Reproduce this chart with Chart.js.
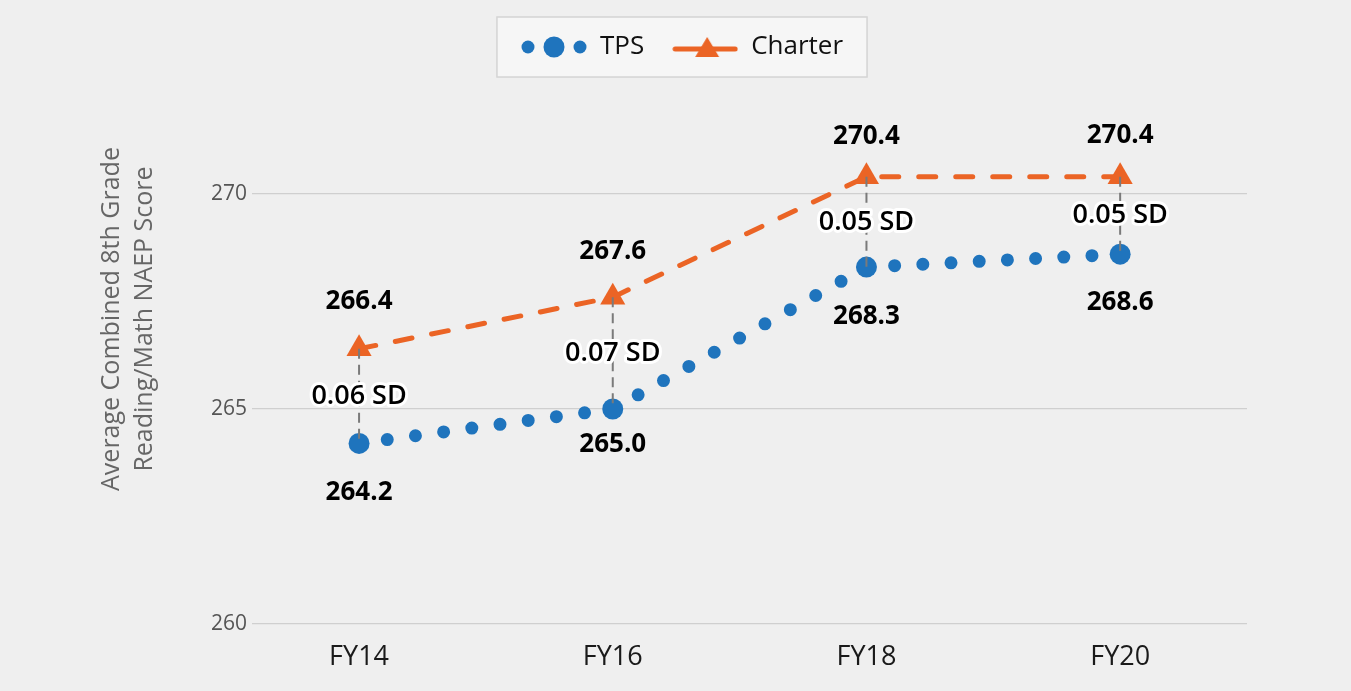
<!DOCTYPE html>
<html>
<head>
<meta charset="utf-8">
<script src="https://cdn.jsdelivr.net/npm/chart.js@4/dist/chart.umd.min.js"></script>
<style>
  html, body { margin: 0; padding: 0; background: #efefef; }
  #wrap { width: 1351px; height: 691px; }
</style>
</head>
<body>
<div id="wrap"><canvas id="naep"></canvas></div>
<script>
const years = ['FY14', 'FY16', 'FY18', 'FY20']
const tpsScores = [264.2, 265.0, 268.3, 268.6]
const charterScores = [266.4, 267.6, 270.4, 270.4]
const gapLabels = ['0.06 SD', '0.07 SD', '0.05 SD', '0.05 SD']
const yTicks = [260, 265, 270]
const axisTitle = ['Average Combined 8th Grade', 'Reading/Math NAEP Score']

const BLUE = '#1f74bd'
const ORANGE = '#eb6425'
const FONT = "'Open Sans', 'Noto Sans', sans-serif"

// how far the value labels sit from their marker (px)
const charterLabelGap = [47, 46, 40, 41]
const tpsLabelGap = [49, 36, 49, 48]

// little canvases for the legend icons
function tpsIcon() {
  const c = document.createElement('canvas')
  c.width = 66; c.height = 24
  const g = c.getContext('2d')
  g.fillStyle = BLUE
  ;[[7, 6.5], [33, 10.5], [59, 6.5]].forEach(([x, r]) => {
    g.beginPath(); g.arc(x, 12, r, 0, Math.PI * 2); g.fill()
  })
  return c
}
function charterIcon() {
  const c = document.createElement('canvas')
  c.width = 66; c.height = 26
  const g = c.getContext('2d')
  g.strokeStyle = ORANGE; g.fillStyle = ORANGE
  g.lineWidth = 5; g.lineCap = 'round'
  g.beginPath(); g.moveTo(3, 15); g.lineTo(63, 15); g.stroke()
  g.beginPath(); g.moveTo(35, 3); g.lineTo(47, 23); g.lineTo(23, 23); g.closePath(); g.fill()
  return c
}

// dotted line that restarts at each marker so the dots end on the points
function dotDash(ctx) {
  const a = ctx.p0, b = ctx.p1
  const len = Math.hypot(b.x - a.x, b.y - a.y)
  const n = Math.max(1, Math.round(len / 28.4))
  return [0, len / n]
}

const legendFrame = {
  id: 'legendFrame',
  beforeDraw(chart) {
    const boxes = chart.legend.legendHitBoxes
    if (!boxes || !boxes.length) return
    const ctx = chart.ctx
    const left = boxes[0].left - 24
    const right = boxes[boxes.length - 1].left + boxes[boxes.length - 1].width + 24
    const cy = boxes[0].top + boxes[0].height / 2
    ctx.save()
    ctx.fillStyle = '#f6f6f6'
    ctx.strokeStyle = '#d4d4d4'
    ctx.lineWidth = 1.5
    ctx.fillRect(left, cy - 30, right - left, 60)
    ctx.strokeRect(left, cy - 30, right - left, 60)
    ctx.restore()
  }
}

const yTitle = {
  id: 'yTitle',
  afterDraw(chart) {
    const ctx = chart.ctx
    ctx.save()
    ctx.translate(128, 319)
    ctx.rotate(-Math.PI / 2)
    ctx.font = '25px ' + FONT
    ctx.fillStyle = '#666'
    ctx.textAlign = 'center'
    ctx.textBaseline = 'middle'
    ctx.fillText(axisTitle[0], 0, -16)
    ctx.fillText(axisTitle[1], 0, 17)
    ctx.restore()
  }
}

const gapMarks = {
  id: 'gapMarks',
  afterDatasetsDraw(chart) {
    const ctx = chart.ctx
    const tps = chart.getDatasetMeta(0).data
    const ch = chart.getDatasetMeta(1).data
    ctx.save()
    for (let i = 0; i < years.length; i++) {
      const x = ch[i].x
      ctx.strokeStyle = '#7a7a7a'
      ctx.lineWidth = 2
      ctx.setLineDash([10, 6])
      ctx.beginPath(); ctx.moveTo(x, ch[i].y); ctx.lineTo(x, tps[i].y); ctx.stroke()
      ctx.setLineDash([])

      ctx.textAlign = 'center'
      ctx.textBaseline = 'middle'
      // sd label with white halo
      const my = (ch[i].y + tps[i].y) / 2
      ctx.font = '600 27px ' + FONT
      ctx.lineJoin = 'round'
      ctx.strokeStyle = '#ffffff'
      ctx.lineWidth = 6
      ctx.strokeText(gapLabels[i], x, my)
      ctx.fillStyle = '#000'
      ctx.fillText(gapLabels[i], x, my)

      ctx.font = 'bold 26px ' + FONT
      ctx.fillText(charterScores[i].toFixed(1), x, ch[i].y - charterLabelGap[i])
      ctx.fillText(tpsScores[i].toFixed(1), x, tps[i].y + tpsLabelGap[i])
    }
    ctx.restore()
  }
}

new Chart(document.getElementById('naep'), {
  type: 'line',
  data: {
    datasets: [
      {
        label: 'TPS',
        data: tpsScores.map((v, i) => ({x: i, y: v})),
        borderColor: BLUE,
        backgroundColor: BLUE,
        borderWidth: 13,
        borderCapStyle: 'round',
        segment: { borderDash: dotDash },
        pointStyle: 'circle',
        pointRadius: 10.5,
        pointBorderWidth: 0,
        pointBackgroundColor: BLUE
      },
      {
        label: 'Charter',
        data: charterScores.map((v, i) => ({x: i, y: v})),
        borderColor: ORANGE,
        backgroundColor: ORANGE,
        borderWidth: 5,
        borderDash: [17, 20],
        borderCapStyle: 'round',
        pointStyle: 'triangle',
        pointRadius: 14.5,
        pointBorderWidth: 0,
        pointBackgroundColor: ORANGE
      }
    ]
  },
  options: {
    responsive: true,
    maintainAspectRatio: false,
    animation: false,
    layout: { padding: { left: 117, right: 104, top: 6, bottom: 0 } },
    plugins: {
      legend: {
        position: 'top',
        labels: {
          usePointStyle: true,
          pointStyleWidth: 66,
          padding: 28,
          color: '#111',
          font: { family: FONT, size: 26 },
          generateLabels: () => [
            { text: 'TPS', pointStyle: tpsIcon(), datasetIndex: 0, fontColor: '#111' },
            { text: 'Charter', pointStyle: charterIcon(), datasetIndex: 1, fontColor: '#111' }
          ]
        }
      },
      tooltip: { enabled: false }
    },
    scales: {
      x: {
        type: 'linear',
        min: -0.422,
        max: 3.5,
        afterBuildTicks: axis => { axis.ticks = years.map((_, i) => ({value: i})) },
        afterFit: scale => { scale.height = 67 },
        grid: { display: false },
        border: { display: false },
        ticks: {
          padding: 9,
          color: '#1a1a1a',
          font: { family: FONT, size: 27 },
          callback: v => years[v]
        }
      },
      // empty band above the plot, keeps room under the legend
      xTop: {
        type: 'linear',
        position: 'top',
        afterFit: scale => { scale.height = 38 },
        grid: { display: false },
        border: { display: false },
        ticks: { display: false }
      },
      y: {
        min: 260,
        max: 272,
        afterBuildTicks: axis => { axis.ticks = yTicks.map(v => ({value: v})) },
        afterFit: scale => { scale.width = 135 },
        grid: { color: '#cfcfcf', lineWidth: 1.2, drawTicks: false },
        border: { display: false },
        ticks: {
          padding: 5,
          color: '#555',
          font: { family: FONT, size: 21 }
        }
      }
    }
  },
  plugins: [legendFrame, yTitle, gapMarks]
})
</script>
</body>
</html>
